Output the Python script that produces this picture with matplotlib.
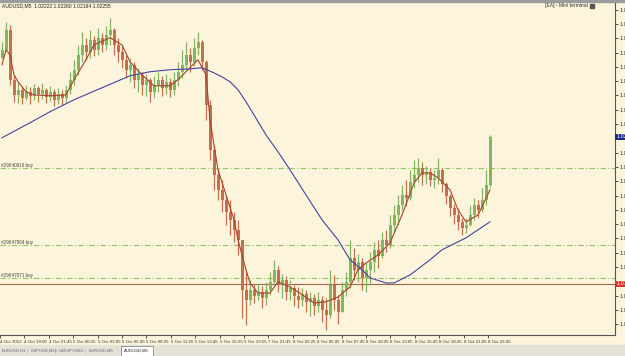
import numpy as np
import matplotlib.pyplot as plt
from matplotlib.patches import Rectangle

# ------------------------------
# DATA
# ------------------------------

closes = [
    1.02560, 1.02630, 1.02455, 1.02402, 1.02420, 1.02392, 1.02413, 1.02399, 1.02427, 1.02406,
    1.02420, 1.02395, 1.02413, 1.02385, 1.02406, 1.02392, 1.02420, 1.02455, 1.02490, 1.02542,
    1.02577, 1.02553, 1.02595, 1.02560, 1.02602, 1.02577, 1.02612, 1.02630, 1.02577, 1.02553,
    1.02525, 1.02490, 1.02507, 1.02455, 1.02472, 1.02437, 1.02455, 1.02413, 1.02437, 1.02455,
    1.02427, 1.02448, 1.02420, 1.02455, 1.02483, 1.02507, 1.02542, 1.02518, 1.02567, 1.02588,
    1.02518, 1.02367, 1.02210, 1.02122, 1.02070, 1.02035, 1.01993, 1.01965, 1.01930, 1.01895,
    1.01720, 1.01685, 1.01720, 1.01699, 1.01713, 1.01692, 1.01720, 1.01748, 1.01790, 1.01737,
    1.01755, 1.01713, 1.01727, 1.01699, 1.01685, 1.01706, 1.01678, 1.01692, 1.01664, 1.01685,
    1.01650, 1.01632, 1.01737, 1.01685, 1.01643, 1.01720, 1.01748, 1.01832, 1.01790, 1.01818,
    1.01762, 1.01790, 1.01818, 1.01860, 1.01839, 1.01895, 1.01877, 1.01947, 1.01982, 1.02017,
    1.02052, 1.02042, 1.02098, 1.02122, 1.02147, 1.02122, 1.02133, 1.02105, 1.02112, 1.02140,
    1.02091, 1.02049, 1.02007, 1.01982, 1.01958, 1.01937, 1.01947, 1.01982, 1.02017, 1.02000,
    1.02035, 1.02087, 1.02255,
]
highs = [
    1.02588, 1.02658, 1.02647, 1.02472, 1.02448, 1.02434, 1.02437, 1.02430, 1.02441, 1.02434,
    1.02444, 1.02427, 1.02434, 1.02423, 1.02427, 1.02420, 1.02437, 1.02483, 1.02525, 1.02577,
    1.02623, 1.02602, 1.02630, 1.02609, 1.02637, 1.02619, 1.02644, 1.02672, 1.02637, 1.02602,
    1.02577, 1.02542, 1.02532, 1.02518, 1.02497, 1.02483, 1.02476, 1.02462, 1.02469, 1.02483,
    1.02469, 1.02476, 1.02462, 1.02483, 1.02518, 1.02560, 1.02588, 1.02567, 1.02602, 1.02623,
    1.02595, 1.02525, 1.02385, 1.02227, 1.02147, 1.02105, 1.02052, 1.02035, 1.01993, 1.01965,
    1.01895, 1.01790, 1.01755, 1.01741, 1.01744, 1.01734, 1.01748, 1.01783, 1.01825, 1.01804,
    1.01776, 1.01769, 1.01755, 1.01737, 1.01730, 1.01727, 1.01720, 1.01713, 1.01706, 1.01713,
    1.01699, 1.01692, 1.01790, 1.01772, 1.01702, 1.01748, 1.01783, 1.01895, 1.01867, 1.01846,
    1.01832, 1.01818, 1.01853, 1.01888, 1.01895, 1.01923, 1.01930, 1.01982, 1.02017, 1.02052,
    1.02087, 1.02105, 1.02140, 1.02175, 1.02182, 1.02168, 1.02154, 1.02147, 1.02140, 1.02182,
    1.02147, 1.02098, 1.02056, 1.02021, 1.02007, 1.01972, 1.01972, 1.02017, 1.02042, 1.02035,
    1.02077, 1.02140, 1.02260,
]
lows = [
    1.02532, 1.02560, 1.02437, 1.02378, 1.02374, 1.02371, 1.02385, 1.02371, 1.02385, 1.02378,
    1.02388, 1.02374, 1.02381, 1.02364, 1.02371, 1.02367, 1.02378, 1.02406, 1.02437, 1.02472,
    1.02518, 1.02525, 1.02532, 1.02539, 1.02542, 1.02553, 1.02560, 1.02577, 1.02542, 1.02518,
    1.02497, 1.02462, 1.02448, 1.02427, 1.02413, 1.02402, 1.02399, 1.02378, 1.02392, 1.02413,
    1.02399, 1.02406, 1.02395, 1.02402, 1.02434, 1.02462, 1.02490, 1.02483, 1.02504, 1.02542,
    1.02490, 1.02315, 1.02175, 1.02070, 1.02035, 1.01993, 1.01947, 1.01912, 1.01888, 1.01842,
    1.01622, 1.01597, 1.01667, 1.01674, 1.01685, 1.01657, 1.01667, 1.01702, 1.01737, 1.01713,
    1.01692, 1.01685, 1.01685, 1.01664, 1.01657, 1.01664, 1.01643, 1.01629, 1.01632, 1.01643,
    1.01608, 1.01580, 1.01622, 1.01650, 1.01601, 1.01685, 1.01699, 1.01727, 1.01755, 1.01748,
    1.01720, 1.01713, 1.01737, 1.01783, 1.01797, 1.01832, 1.01853, 1.01867, 1.01923, 1.01947,
    1.02000, 1.02014, 1.02035, 1.02077, 1.02098, 1.02087, 1.02091, 1.02084, 1.02077, 1.02091,
    1.02063, 1.02021, 1.01979, 1.01951, 1.01930, 1.01912, 1.01919, 1.01944, 1.01965, 1.01972,
    1.01993, 1.02017, 1.02080,
]
first_open = 1.02532

# fast (brown) moving average, sampled at candle indices
fast_ma_idx = [0, 1, 2, 3, 4, 6, 8, 12, 16, 18, 21, 23, 27, 30, 32, 35, 38, 42, 44, 47, 49,
               51, 52, 54, 58, 59, 61, 62, 64, 67, 69, 72, 74, 78, 81, 84, 87, 89, 91, 94,
               97, 100, 103, 105, 107, 109, 112, 114, 116, 119, 120, 122]
fast_ma = [1.02507, 1.02560, 1.02542, 1.02472, 1.02448, 1.02413, 1.02402, 1.02399, 1.02402,
           1.02455, 1.02525, 1.02577, 1.02602, 1.02577, 1.02518, 1.02472, 1.02434, 1.02434,
           1.02455, 1.02497, 1.02525, 1.02472, 1.02315, 1.02140, 1.01965, 1.01895, 1.01790,
           1.01744, 1.01709, 1.01709, 1.01748, 1.01730, 1.01713, 1.01674, 1.01678, 1.01695,
           1.01730, 1.01790, 1.01814, 1.01842, 1.01884, 1.01982, 1.02094, 1.02129, 1.02129,
           1.02112, 1.02070, 1.02000, 1.01958, 1.01982, 1.02010, 1.02070]

# slow (blue) moving average
slow_ma_idx = [0, 6, 12, 18, 25, 32, 37, 42, 47, 50, 53, 55, 57, 59, 61, 63, 66, 69, 72, 76,
               80, 84, 87, 90, 92, 96, 98, 102, 107, 110, 116, 122]
slow_ma = [1.02252, 1.02297, 1.02343, 1.02385, 1.02427, 1.02469, 1.02483, 1.02490, 1.02493,
           1.02497, 1.02479, 1.02465, 1.02448, 1.02420, 1.02378, 1.02332, 1.02262, 1.02203,
           1.02140, 1.02052, 1.01965, 1.01895, 1.01825, 1.01790, 1.01762, 1.01744, 1.01744,
           1.01772, 1.01825, 1.01860, 1.01902, 1.01958]

order_levels = [1.02147, 1.01877, 1.01762]
order_labels = ["#29640916 buy", "#29647904 buy", "#29647071 buy"]
alert_level = 1.01741
last_price = 1.02255

price_ticks = [1.0160 + 0.0005 * k for k in range(23)]
time_labels = ["4 Oct 2012", "4 Oct 19:05", "4 Oct 21:45", "5 Oct 00:25", "5 Oct 03:05",
               "5 Oct 05:45", "5 Oct 08:25", "5 Oct 11:05", "5 Oct 13:45", "5 Oct 16:25",
               "5 Oct 19:05", "7 Oct 21:45", "8 Oct 02:25", "8 Oct 05:05", "8 Oct 07:45",
               "8 Oct 10:25", "8 Oct 13:05", "8 Oct 15:45", "8 Oct 18:25", "8 Oct 21:05",
               "8 Oct 23:45"]
tab_labels = ["EURUSD,H1", "GBPUSD,M15", "USDJPY,M15", "EURUSD,M5", "AUDUSD,M5"]
header = "AUDUSD,M5  1.02222 1.02260 1.02194 1.02255"

# -----------------
# STYLE
# -----------------
bg = '#fcf5dc'
up_col = '#86b562'
down_col = '#c4704f'
plt.rcParams['font.family'] = ['Liberation Sans', 'DejaVu Sans']

W, H = 625, 356
fig = plt.figure(figsize=(W / 100, H / 100), dpi=100, facecolor=bg)
ax = fig.add_axes([0, 21 / H, 615 / W, 333 / H], facecolor=bg)

# -----------------
# CANDLES
# -----------------
c = np.array(closes)
o = np.concatenate([[first_open], c[:-1]])
hi = np.maximum(np.array(highs), np.maximum(o, c))
lo = np.minimum(np.array(lows), np.minimum(o, c))
x = np.arange(len(c))
cols = np.where(c >= o, up_col, down_col)

ax.vlines(x, lo, hi, colors=cols, lw=0.9, zorder=2)
body = np.maximum(np.abs(c - o), 0.00004)
ax.bar(x, body, bottom=np.minimum(o, c), width=0.75, color=cols, lw=0, zorder=2)

# moving averages
ax.plot(fast_ma_idx, fast_ma, color='#a8432c', lw=0.8, zorder=3)
ax.plot(slow_ma_idx, slow_ma, color='#4144a0', lw=0.8, zorder=3)

# order lines
for lvl, lab in zip(order_levels, order_labels):
    ax.axhline(lvl, color='#8fc46a', lw=0.8, ls=(0, (5, 2, 1, 2)), zorder=1)
    ax.text(-0.3, lvl, lab, fontsize=3.3, color='#444444', va='bottom', ha='left')
ax.axhline(alert_level, color='#a0644a', lw=0.8, zorder=1)

# -----------------
# AXES
# -----------------
ax.set_xlim(-0.5, 153.25)
ax.set_ylim(1.01562, 1.02727)
for s in ['top', 'left']:
    ax.spines[s].set_visible(False)
for s in ['right', 'bottom']:
    ax.spines[s].set_color('#555555')
    ax.spines[s].set_linewidth(0.8)

# tick labels hidden where a coloured price label sits on the scale
marked = [last_price, alert_level]
ax.yaxis.tick_right()
ax.set_yticks(price_ticks)
ax.set_yticklabels(["" if min(abs(p - m) for m in marked) < 0.00022 else f"{p:.5f}"
                    for p in price_ticks])
ax.tick_params(axis='y', labelsize=4, length=2, pad=1.5, colors='#333333', width=0.6)

tick_pos = -0.5 + 6.1 * np.arange(len(time_labels))
ax.set_xticks(tick_pos)
ax.set_xticklabels(time_labels, ha='left')
ax.tick_params(axis='x', labelsize=3.2, length=2, pad=1.5, colors='#333333', width=0.6)

# price labels on the scale
for lvl, fc in [(last_price, '#1e2a86'), (alert_level, '#e0302a')]:
    ax.text(1.002, lvl, f"{lvl:.5f}", transform=ax.get_yaxis_transform(), fontsize=4,
            color='white', va='center', ha='left', clip_on=False, zorder=5,
            bbox=dict(facecolor=fc, edgecolor='none', pad=0.6))

# header and title texts
fig.add_artist(Rectangle((0, 1 - 2 / H), 1, 2 / H, transform=fig.transFigure,
                         color='#9c9c9c'))
fig.text(2 / W, 1 - 6 / H, header, fontsize=3.6, color='#222222', va='center')
fig.text(588 / W, 1 - 6 / H, "[EA] - Mini terminal", fontsize=3.6, color='#333333',
         va='center', ha='right')
fig.add_artist(Rectangle((590 / W, 1 - 8 / H), 4 / W, 4 / H, transform=fig.transFigure,
                         color='#555555'))

# terminal tabs at the bottom
fig.add_artist(Rectangle((0, 0), 1, 11 / H, transform=fig.transFigure, color='#e4e1d9'))
fig.add_artist(Rectangle((121 / W, 0), 32 / W, 10 / H, transform=fig.transFigure,
                         facecolor='white', edgecolor='#777777', lw=0.5))
tab_x = [2, 31, 59, 89, 124]
for i, (tx, lab) in enumerate(zip(tab_x, tab_labels)):
    fig.text(tx / W, 5 / H, lab, fontsize=3.0, va='center',
             color='#222222' if i == 4 else '#666666')
    if 0 < i < 4:
        fig.text((tx - 4) / W, 5 / H, "|", fontsize=3.0, va='center', color='#888888')

fig.savefig('out.png', dpi=100, facecolor=bg)
